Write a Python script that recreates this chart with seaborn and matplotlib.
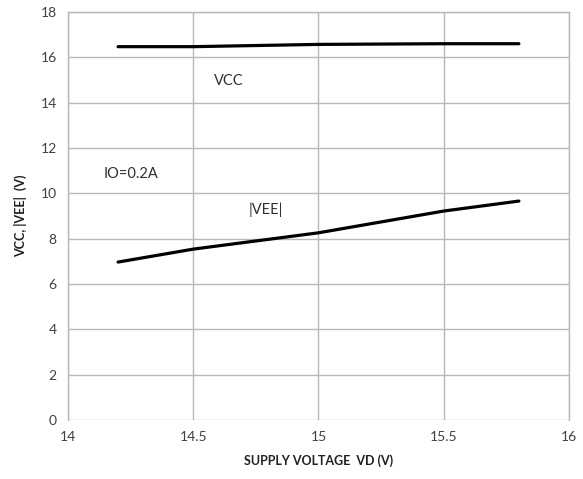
import pandas as pd
import seaborn as sns
from matplotlib import pyplot as plt

# supply voltage VD (V)
vd = [14.2, 14.5, 15.0, 15.5, 15.8]
vcc = [16.47, 16.47, 16.57, 16.6, 16.6]
vee_abs = [6.97, 7.54, 8.26, 9.22, 9.66]

x_ticks = [14, 14.5, 15, 15.5, 16]
y_ticks = list(range(0, 19, 2))

df = pd.DataFrame({"vd": vd, "vcc": vcc, "vee": vee_abs})

sns.set_style("whitegrid", {"grid.color": "#b8b8b8", "axes.edgecolor": "#b8b8b8"})
plt.rcParams["font.family"] = ["Lato", "DejaVu Sans"]

fig = plt.figure(figsize=(5.83, 4.79), dpi=100)
ax = fig.add_axes([0.1166, 0.123, 0.8594, 0.852])

sns.lineplot(data=df, x="vd", y="vcc", color="black", linewidth=2.3, ax=ax)
sns.lineplot(data=df, x="vd", y="vee", color="black", linewidth=2.3, ax=ax)

ax.set_xlim(14, 16)
ax.set_ylim(0, 18)
ax.set_xticks(x_ticks)
ax.set_xticklabels(["14", "14.5", "15", "15.5", "16"])
ax.set_yticks(y_ticks)
ax.tick_params(labelsize=10, colors="#404040", length=0, pad=8)
ax.spines["bottom"].set_visible(False)
for s in ("left", "right", "top"):
    ax.spines[s].set_linewidth(1)
ax.grid(linewidth=1)

ax.set_xlabel("SUPPLY VOLTAGE  VD (V)", fontsize=9, fontweight="bold", color="#202020", labelpad=8)
ax.set_ylabel("VCC, |VEE|  (V)", fontsize=9, fontweight="bold", color="#202020", labelpad=10)

ax.text(14.64, 14.95, "VCC", fontsize=10.5, color="#303030", ha="center", va="center")
ax.text(14.25, 10.85, "IO=0.2A", fontsize=10.5, color="#303030", ha="center", va="center")
ax.text(14.79, 9.26, "|VEE|", fontsize=10.5, color="#303030", ha="center", va="center")

fig.savefig("out.png", dpi=100)
